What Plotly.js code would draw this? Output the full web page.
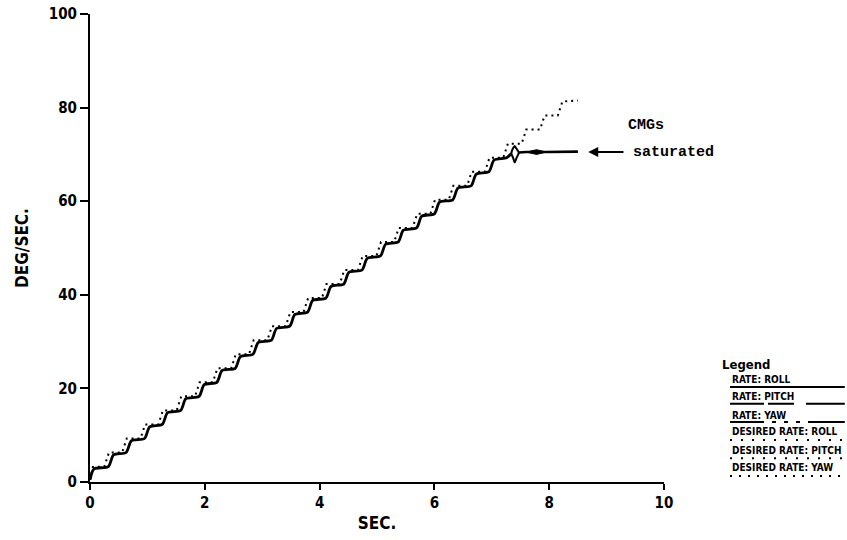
<!DOCTYPE html>
<html>
<head>
<meta charset="utf-8">
<script src="https://cdn.plot.ly/plotly-3.0.1.min.js"></script>
<style>html,body{margin:0;padding:0;background:#fff;}#chart{width:847px;height:540px;}</style>
</head>
<body>
<div id="chart"></div>
<script>
// Measured rate (solid staircase), deg/sec vs sec
const rateX = [0.00,0.07,0.32,0.41,0.63,0.72,0.95,1.04,1.26,1.35,1.58,1.67,1.90,1.99,2.21,2.30,2.53,2.62,2.84,2.93,3.16,3.25,3.48,3.57,3.79,3.88,4.11,4.20,4.42,4.51,4.74,4.83,5.06,5.15,5.37,5.46,5.69,5.78,6.00,6.09,6.32,6.41,6.64,6.73,6.95,7.04,7.26,7.34];
const rateY = [0.5,2.8,3.3,5.8,6.3,8.8,9.3,11.8,12.3,14.8,15.3,17.8,18.3,20.8,21.3,23.8,24.3,26.8,27.3,29.8,30.3,32.8,33.3,35.8,36.3,38.8,39.3,41.8,42.3,44.8,45.3,47.8,48.3,50.8,51.3,53.8,54.3,56.8,57.3,59.8,60.3,62.8,63.3,65.8,66.3,68.8,69.3,70.2];
// Saturation region of the measured rate
const kinkX = [7.34,7.37,7.40,7.43,7.47,7.43,7.40,7.37,7.34];
const kinkY = [70.2,71.3,71.8,71.2,70.4,69.2,68.3,69.3,70.2];
const satX = [7.47,7.60,7.95,8.50];
const satY = [70.4,70.5,70.5,70.6];
const blobX = [7.60,7.78,7.95,7.78,7.60];
const blobY = [70.5,71.0,70.5,70.0,70.5];
// Desired rate (dotted staircase)
const desX = [0.00,0.05,0.25,0.33,0.56,0.64,0.88,0.96,1.19,1.27,1.51,1.59,1.83,1.91,2.14,2.22,2.46,2.54,2.77,2.85,3.09,3.17,3.41,3.49,3.72,3.80,4.04,4.12,4.35,4.43,4.67,4.75,4.99,5.07,5.30,5.38,5.62,5.70,5.93,6.01,6.25,6.33,6.57,6.65,6.88,6.96,7.20,7.28,7.52,7.60,7.84,7.92,8.15,8.23,8.50];
const desY = [0.5,3.2,3.3,6.3,6.3,9.3,9.3,12.3,12.3,15.3,15.3,18.3,18.3,21.3,21.3,24.3,24.3,27.3,27.3,30.3,30.3,33.3,33.3,36.3,36.3,39.3,39.3,42.3,42.3,45.3,45.3,48.3,48.3,51.3,51.3,54.3,54.3,57.3,57.3,60.3,60.3,63.3,63.3,66.3,66.3,69.3,69.3,72.3,72.3,75.3,75.3,78.3,78.3,81.3,81.5];
// Axis ticks
const xTicks = [0,2,4,6,8,10];
const yTicks = [0,20,40,60,80,100];
// Legend labels
const legendLabels = ['RATE: ROLL','RATE: PITCH','RATE: YAW','DESIRED RATE: ROLL','DESIRED RATE: PITCH','DESIRED RATE: YAW'];

const axFont = {family:'"DejaVu Sans Condensed","DejaVu Sans",sans-serif', size:15, color:'#000', weight:'bold'};
const titleFont = {family:'"DejaVu Sans Condensed","DejaVu Sans",sans-serif', size:17, color:'#000', weight:'bold'};
const monoFont = {family:'"Liberation Mono","DejaVu Sans Mono",monospace', size:15, color:'#000', weight:'bold'};
const legFont = {family:'"DejaVu Sans Condensed","DejaVu Sans",sans-serif', size:10, color:'#000', weight:'bold'};

const traces = [
  {x:desX, y:desY, mode:'lines', line:{color:'#000', width:2, dash:'2px,4px'}, showlegend:false, hoverinfo:'skip'},
  {x:rateX, y:rateY, mode:'lines', line:{color:'#000', width:2.8, shape:'spline', smoothing:0.7}, showlegend:false, hoverinfo:'skip'},
  {x:kinkX, y:kinkY, mode:'lines', line:{color:'#000', width:2, shape:'spline', smoothing:0.6}, showlegend:false, hoverinfo:'skip'},
  {x:satX, y:satY, mode:'lines', line:{color:'#000', width:2.6}, showlegend:false, hoverinfo:'skip'},
  {x:blobX, y:blobY, mode:'lines', fill:'toself', fillcolor:'#000', line:{color:'#000', width:1}, showlegend:false, hoverinfo:'skip'}
];

// legend rows in paper coordinates
const rowText = [0.218,0.182,0.143,0.107,0.068,0.030];
const rowLine = [0.203,0.167,0.128,0.090,0.051,0.013];
const legX0 = 1.115, legX1 = 1.315;
const dashes = ['solid','34px,4px,26px,12px,40px,6px','34px,8px,4px,8px,4px,8px,4px,8px,40px','2px,9px','2px,9px','2px,7px'];

const annotations = [
  {xref:'x', yref:'y', x:8.68, y:70.5, ax:9.32, ay:70.5, axref:'x', ayref:'y', text:'', showarrow:true, arrowhead:2, arrowsize:1, arrowwidth:2, arrowcolor:'#000'},
  {xref:'x', yref:'y', x:9.42, y:70.5, text:'saturated', showarrow:false, xanchor:'left', yanchor:'middle', font:monoFont},
  {xref:'x', yref:'y', x:9.33, y:76.2, text:'CMGs', showarrow:false, xanchor:'left', yanchor:'middle', font:monoFont},
  {xref:'paper', yref:'paper', x:1.098, y:0.252, text:'Legend', showarrow:false, xanchor:'left', yanchor:'middle', font:{family:legFont.family, size:13, color:'#000', weight:'bold'}}
];
const shapes = [];
legendLabels.forEach((lab,i)=>{
  annotations.push({xref:'paper', yref:'paper', x:legX0, y:rowText[i], text:lab, showarrow:false, xanchor:'left', yanchor:'middle', font:legFont});
  shapes.push({type:'line', xref:'paper', yref:'paper', x0:legX0, x1:legX1, y0:rowLine[i], y1:rowLine[i], line:{color:'#000', width:2, dash:dashes[i]}});
});

const layout = {
  width:847, height:540,
  margin:{l:90, r:183, t:14, b:58, pad:0},
  paper_bgcolor:'#fff', plot_bgcolor:'#fff',
  showlegend:false,
  xaxis:{range:[0,10], tickvals:xTicks, ticktext:xTicks.map(String), showgrid:false, zeroline:false, showline:true, linecolor:'#000', linewidth:2, ticks:'outside', ticklen:6, tickwidth:2, tickcolor:'#000', tickfont:axFont, title:{text:'SEC.', font:titleFont, standoff:6}},
  yaxis:{range:[0,100], tickvals:yTicks, ticktext:yTicks.map(String), showgrid:false, zeroline:false, showline:true, linecolor:'#000', linewidth:2, ticks:'outside', ticklen:8, tickwidth:2, tickcolor:'#000', tickfont:axFont, title:{text:'DEG/SEC.', font:titleFont, standoff:16}},
  annotations:annotations,
  shapes:shapes
};
Plotly.newPlot('chart', traces, layout, {staticPlot:true, displayModeBar:false});
</script>
</body>
</html>
